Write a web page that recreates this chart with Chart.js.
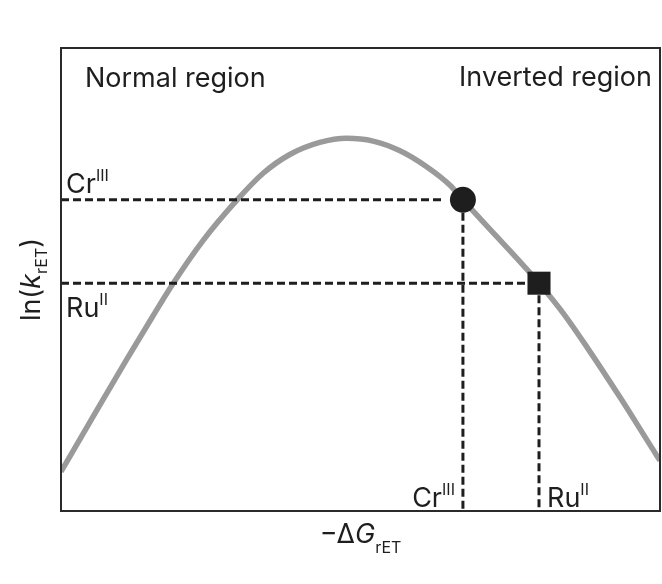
<!DOCTYPE html>
<html>
<head>
<meta charset="utf-8">
<script src="https://cdn.jsdelivr.net/npm/chart.js@4/dist/chart.umd.min.js"></script>
<style>
  html, body { margin: 0; padding: 0; background: #fff; overflow: hidden; }
  #wrap { width: 662px; height: 584px; position: relative; }
  canvas { display: block; }
</style>
</head>
<body>
<div id="wrap"><canvas id="cv"></canvas></div>
<script>
// Marcus curve (x: -dG 0..100, y: ln k 0..100)
const curveX = [0, 5.5, 11.0, 15.2, 18.5, 23.7, 29.4, 33.7, 38.2, 43.2, 47.7, 52.1, 56.6, 61.1, 64.9, 67.1, 72.8, 79.8, 83.8, 87.8, 93.3, 99.5, 100];
const curveY = [8.5, 20.7, 32.8, 41.8, 48.7, 58.4, 67.2, 72.9, 77.0, 79.6, 80.5, 79.9, 77.8, 74.3, 70.4, 67.2, 59.2, 49.2, 42.8, 35.4, 24.6, 11.9, 10.9];

// the two complexes
const speciesNames = ["Cr", "Ru"];
const speciesCharge = ["III", "II"];
const speciesX = [67.1, 79.8];
const speciesY = [67.2, 49.2];
const speciesShape = ["circle", "rect"];
const dashStopX = [63.8, 78.0];
const dashStopY = [64.4, 49.2];

const regionNames = ["Normal region", "Inverted region"];

const FONT = 'Inter, "Noto Sans", sans-serif';
const INK = "#1e1e1e";

const curvePts = curveX.map((x, i) => ({ x: x, y: curveY[i] }));

const datasets = [{
  data: curvePts,
  borderColor: "#9a9a9a",
  borderWidth: 5.5,
  pointRadius: 0,
  cubicInterpolationMode: "monotone",
  clip: 0,
  order: 3
}];

speciesNames.forEach((name, i) => {
  const dash = {
    borderColor: INK,
    borderWidth: 3,
    borderDash: [8, 4],
    borderCapStyle: "butt",
    pointRadius: 0,
    clip: 0,
    order: 2
  };
  datasets.push(Object.assign({ data: [{ x: 0, y: speciesY[i] }, { x: dashStopX[i], y: speciesY[i] }] }, dash));
  datasets.push(Object.assign({ data: [{ x: speciesX[i], y: dashStopY[i] }, { x: speciesX[i], y: 0 }] }, dash));
  datasets.push({
    data: [{ x: speciesX[i], y: speciesY[i] }],
    showLine: false,
    pointStyle: speciesShape[i],
    pointRadius: speciesShape[i] == "rect" ? 16.3 : 13,
    pointBackgroundColor: INK,
    pointBorderWidth: 0,
    clip: false,
    order: 1
  });
});

// draws text with a raised or lowered small part
function pieces(ctx, x, y, parts, align) {
  let total = 0;
  parts.forEach(p => { ctx.font = p.font; total += ctx.measureText(p.t).width; });
  let cx = align == "right" ? x - total : align == "center" ? x - total / 2 : x;
  parts.forEach(p => {
    ctx.font = p.font;
    ctx.fillText(p.t, cx, y + (p.dy || 0));
    cx += ctx.measureText(p.t).width;
  });
}

const big = "27px " + FONT;
const small = "16px " + FONT;

const framePlugin = {
  id: "frame",
  afterDatasetsDraw(chart) {
    const ctx = chart.ctx;
    const a = chart.chartArea;
    ctx.save();
    ctx.strokeStyle = "#2a2a2a";
    ctx.lineWidth = 2;
    ctx.strokeRect(a.left, a.top, a.right - a.left, a.bottom - a.top);
    ctx.restore();
  },
  afterDraw(chart) {
    const ctx = chart.ctx;
    const a = chart.chartArea;
    const xs = chart.scales.x;
    const ys = chart.scales.y;
    ctx.save();
    ctx.fillStyle = INK;
    ctx.textBaseline = "alphabetic";

    ctx.font = big;
    ctx.textAlign = "left";
    ctx.fillText(regionNames[0], a.left + 24, a.top + 39);
    ctx.textAlign = "right";
    ctx.fillText(regionNames[1], a.right - 8, a.top + 38);
    ctx.textAlign = "left";

    speciesNames.forEach((name, i) => {
      const py = ys.getPixelForValue(speciesY[i]);
      const px = xs.getPixelForValue(speciesX[i]);
      const parts = [{ t: name, font: big }, { t: speciesCharge[i], font: small, dy: -12 }];
      // label on the y side: Cr above its line, Ru below
      const ly = i == 0 ? py - 7 : py + 34;
      pieces(ctx, a.left + 5, ly, parts, "left");
      // label on the x side
      if (i == 0) pieces(ctx, px - 8, a.bottom - 4, parts, "right");
      else pieces(ctx, px + 8, a.bottom - 4, parts, "left");
    });

    // x axis title
    pieces(ctx, (a.left + a.right) / 2, a.bottom + 32, [
      { t: "\u2212\u0394", font: big },
      { t: "G", font: "italic " + big },
      { t: "rET", font: small, dy: 10 }
    ], "center");

    // y axis title
    ctx.translate(a.left - 21, (a.top + a.bottom) / 2);
    ctx.rotate(-Math.PI / 2);
    pieces(ctx, 0, 0, [
      { t: "ln(", font: big },
      { t: "k", font: "italic " + big },
      { t: "rET", font: small, dy: 7 },
      { t: ")", font: big }
    ], "center");
    ctx.restore();
  }
};

new Chart(document.getElementById("cv"), {
  type: "line",
  data: { datasets: datasets },
  options: {
    responsive: true,
    maintainAspectRatio: false,
    animation: false,
    layout: { autoPadding: false, padding: { left: 61, top: 48, right: 2, bottom: 73 } },
    plugins: { legend: { display: false }, tooltip: { enabled: false } },
    scales: {
      x: { type: "linear", min: 0, max: 100, display: false },
      y: { type: "linear", min: 0, max: 100, display: false }
    }
  },
  plugins: [framePlugin]
});
</script>
</body>
</html>
